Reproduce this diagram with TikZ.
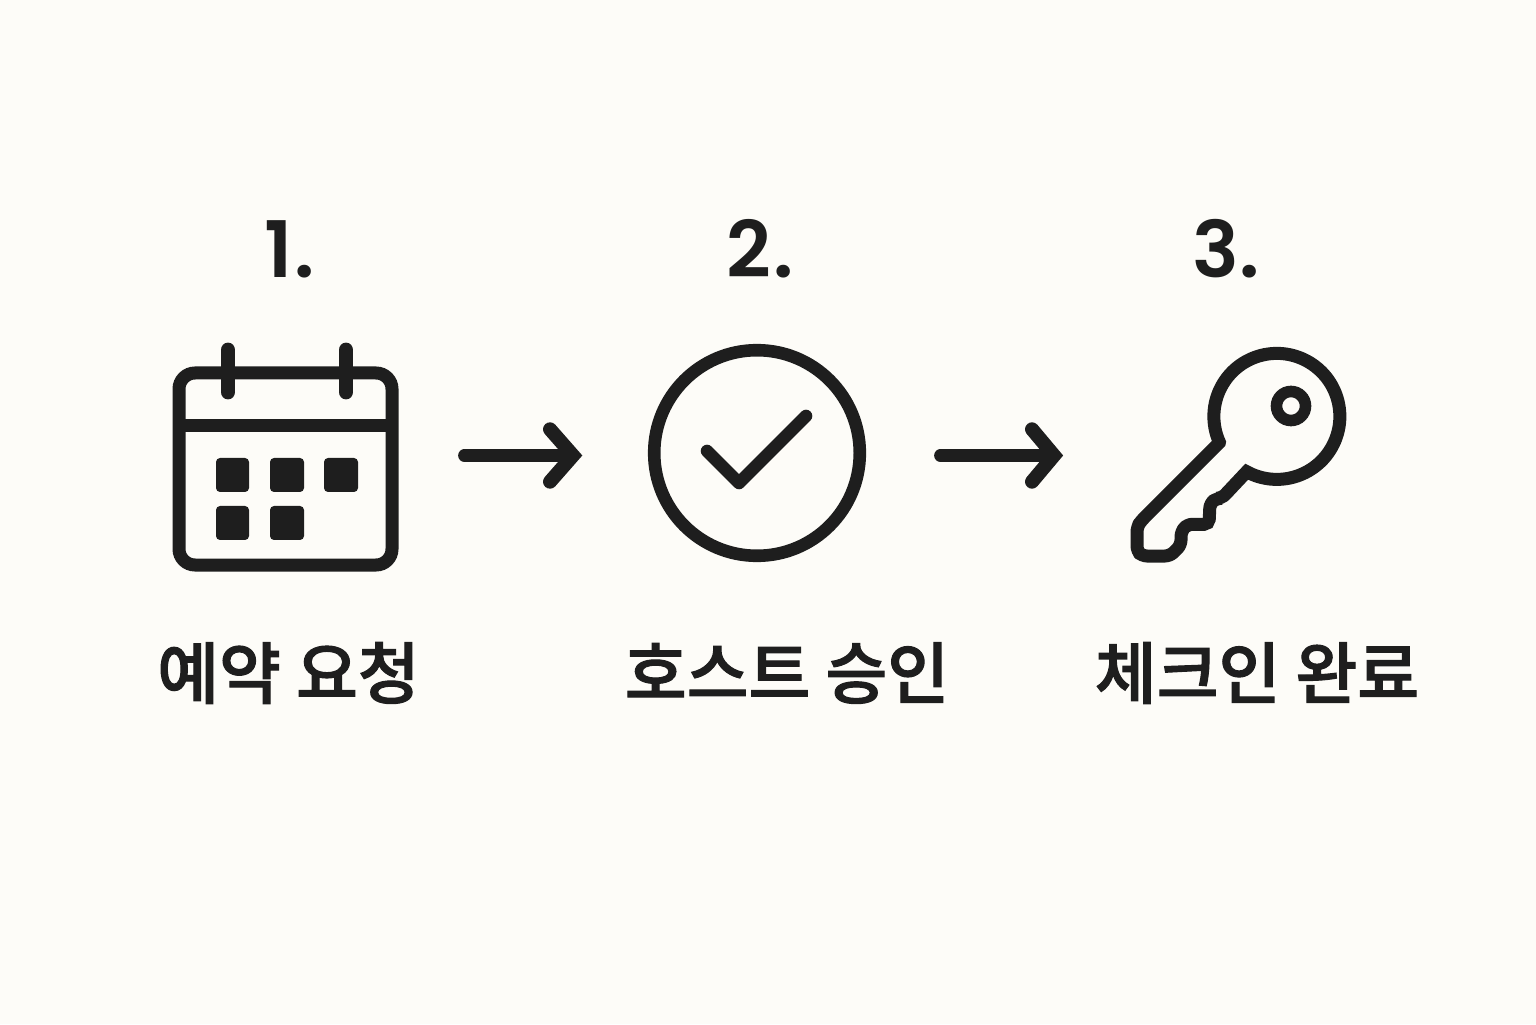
\documentclass[tikz,border=0pt]{standalone}
\usepackage{fontspec}
\setmainfont[RawFeature={embolden=1.6}]{Noto Sans CJK KR Medium}
\newfontfamily\numfont{Poppins SemiBold}
\definecolor{paper}{HTML}{FDFCF8}
\definecolor{ink}{HTML}{1E1E1E}
\tikzset{
  px/.style={x=0.5pt,y=0.5pt},
  icon/.style={draw=ink,line width=6.5pt,fill=none},
  rings/.style={draw=ink,line width=7.4pt,line cap=round},
  cell/.style={fill=ink,rounded corners=2pt},
  flow/.style={draw=ink,line width=6.3pt,line cap=round,line join=round},
  headtip/.style={draw=ink,line width=7pt,line cap=round,line join=miter},
  num/.style={text=ink,font=\numfont\fontsize{39}{39}\selectfont,inner sep=0pt,anchor=center},
  lab/.style={text=ink,font=\fontsize{33.6}{33.6}\selectfont,inner sep=0pt,anchor=center},
  blank/.style={inner sep=0pt,minimum size=0pt}
}
\begin{document}
\begin{tikzpicture}[px]
\useasboundingbox (0,0) rectangle (1536,1024);
\fill[paper] (0,0) rectangle (1536,1024);
% numbers
\node[num] (n1) at (290,775) {1\kern1pt.};
\node[num] (n2) at (760,775) {2\kern1pt.};
\node[num] (n3) at (1226,775) {3.};
% calendar
\draw[icon,rounded corners=8pt] (179,651) rectangle (392,459);
\draw[icon] (179,598) -- (392,598);
\draw[rings] (228,674) -- (228,632);
\draw[rings] (346,674) -- (346,632);
\fill[cell] (216,566) rectangle (249,532);
\fill[cell] (270,566) rectangle (304,532);
\fill[cell] (324,566) rectangle (358,532);
\fill[cell] (216,518) rectangle (249,484);
\fill[cell] (270,518) rectangle (304,484);
% check circle
\node[circle,draw=ink,line width=6.3pt,minimum size=102.8pt,inner sep=0pt] (c2) at (757,571) {};
\draw[flow] (707,573) -- (739,541) -- (806,608);
% key
\draw[icon,miter limit=10] (1219.3,581.3)
  [rounded corners=2.5pt] -- (1141,503) -- (1137,497) -- (1137,473) -- (1142,468) -- (1170,468) -- (1181,479) -- (1181,492.3)
  -- (1187.3,499.7) -- (1209,499.7) -- (1210,520.7) -- (1216.7,525.7) -- (1221.7,525.7)
  [sharp corners] -- (1246.7,552.3)
  arc[start angle=241.4,delta angle=322.8,radius=63] -- cycle;
\node[circle,draw=ink,line width=5.8pt,minimum size=14.5pt,inner sep=0pt] (hole) at (1291,618) {};
% arrows
\node[blank] (a1s) at (464,568.5) {};
\node[blank] (a1e) at (573,568.5) {};
\node[blank] (a2s) at (940,568.5) {};
\node[blank] (a2e) at (1054,568.5) {};
\draw[flow] (a1s) -- (a1e);
\draw[flow] (a2s) -- (a2e);
\draw[headtip] (550,594.7) -- (a1e.center) -- (550,542.3);
\draw[headtip] (1032,594.7) -- (a2e.center) -- (1032,542.3);
% labels
\node[lab] (l1) at (288.5,351) {예약 요청};
\node[lab] (l2) at (787,351) {호스트 승인};
\node[lab] (l3) at (1257,351) {체크인 완료};
\end{tikzpicture}
\end{document}
